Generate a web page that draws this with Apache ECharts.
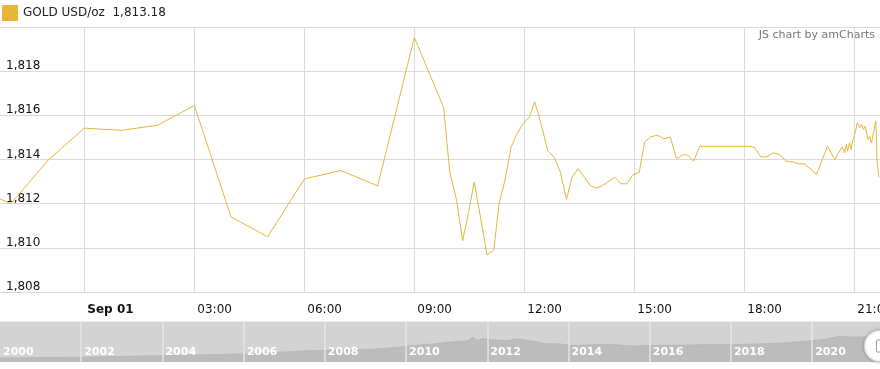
<!DOCTYPE html>
<html><head><meta charset="utf-8">
<script src="https://cdn.jsdelivr.net/npm/echarts@6/dist/echarts.min.js"></script>
<style>html,body{margin:0;padding:0;background:#fff}#c{width:880px;height:369px}</style>
</head><body><div id="c"></div>
<script>
const seriesName = 'GOLD USD/oz';
const windowStart = '2021-08-31 21:42';
const windowEnd = '2021-09-01 21:42';
const xTicks = ['2021-09-01 00:00','2021-09-01 03:00','2021-09-01 06:00','2021-09-01 09:00',
                '2021-09-01 12:00','2021-09-01 15:00','2021-09-01 18:00','2021-09-01 21:00'];
const times = [
 '2021-08-31 21:42','2021-08-31 22:00','2021-08-31 23:00',
 '2021-09-01 00:00','2021-09-01 01:00','2021-09-01 02:00','2021-09-01 03:00','2021-09-01 04:00',
 '2021-09-01 05:00','2021-09-01 06:00','2021-09-01 07:00','2021-09-01 08:00','2021-09-01 09:00',
 '2021-09-01 09:48','2021-09-01 09:58','2021-09-01 10:09','2021-09-01 10:19','2021-09-01 10:28',
 '2021-09-01 10:38','2021-09-01 10:48','2021-09-01 10:59','2021-09-01 11:10','2021-09-01 11:19',
 '2021-09-01 11:28','2021-09-01 11:38','2021-09-01 11:48','2021-09-01 11:58','2021-09-01 12:08',
 '2021-09-01 12:17','2021-09-01 12:28','2021-09-01 12:38','2021-09-01 12:49','2021-09-01 12:59',
 '2021-09-01 13:09','2021-09-01 13:18','2021-09-01 13:28','2021-09-01 13:38','2021-09-01 13:48',
 '2021-09-01 13:58','2021-09-01 14:08','2021-09-01 14:19','2021-09-01 14:28','2021-09-01 14:38',
 '2021-09-01 14:48','2021-09-01 14:58','2021-09-01 15:08','2021-09-01 15:17','2021-09-01 15:27',
 '2021-09-01 15:38','2021-09-01 15:48','2021-09-01 15:59','2021-09-01 16:09','2021-09-01 16:19',
 '2021-09-01 16:27','2021-09-01 16:37','2021-09-01 16:47','2021-09-01 18:09','2021-09-01 18:17',
 '2021-09-01 18:27','2021-09-01 18:37','2021-09-01 18:47','2021-09-01 18:57','2021-09-01 19:09',
 '2021-09-01 19:19','2021-09-01 19:28','2021-09-01 19:38','2021-09-01 19:48','2021-09-01 19:58',
 '2021-09-01 20:16','2021-09-01 20:28','2021-09-01 20:40','2021-09-01 20:44','2021-09-01 20:47',
 '2021-09-01 20:49','2021-09-01 20:52','2021-09-01 20:55','2021-09-01 20:57','2021-09-01 21:00',
 '2021-09-01 21:05','2021-09-01 21:09','2021-09-01 21:12','2021-09-01 21:15','2021-09-01 21:18',
 '2021-09-01 21:22','2021-09-01 21:25','2021-09-01 21:28','2021-09-01 21:32','2021-09-01 21:35',
 '2021-09-01 21:36','2021-09-01 21:37','2021-09-01 21:39','2021-09-01 21:40','2021-09-01 21:42'
];
const prices = [
 1812.21,1812.00,1813.95,
 1815.42,1815.32,1815.55,1816.45,1811.40,
 1810.50,1813.12,1813.50,1812.80,1819.53,
 1816.35,1813.42,1812.18,1810.32,1811.50,
 1812.98,1811.42,1809.68,1809.91,1812.06,
 1813.02,1814.53,1815.17,1815.62,1815.92,
 1816.62,1815.55,1814.42,1814.10,1813.42,
 1812.20,1813.20,1813.59,1813.21,1812.82,
 1812.71,1812.82,1813.02,1813.20,1812.90,
 1812.90,1813.32,1813.42,1814.80,1815.03,
 1815.10,1814.94,1815.01,1814.03,1814.21,
 1814.21,1813.92,1814.60,1814.60,1814.53,
 1814.12,1814.12,1814.30,1814.23,1813.92,
 1813.89,1813.80,1813.80,1813.58,1813.32,
 1814.60,1814.00,1814.58,1814.30,1814.68,
 1814.38,1814.76,1814.45,1814.83,1815.06,
 1815.67,1815.44,1815.59,1815.36,1815.51,
 1814.91,1815.06,1814.76,1815.29,1815.74,
 1815.21,1814.00,1814.08,1813.24,1813.18
];
const yMin = 1808, yMax = 1820, yStep = 2;
const monthNames = ['Jan','Feb','Mar','Apr','May','Jun','Jul','Aug','Sep','Oct','Nov','Dec'];

// navigator (long-term history)
const navYears = [2000.0,2002.0,2004.0,2006.03,2007.39,2008.0,2008.62,2009.04,2009.85,2010.02,2010.67,2011.16,2011.5,2011.65,2011.75,2011.87,2012.07,2012.49,2012.73,2013.13,2013.47,2013.79,2014.04,2014.78,2015.2,2015.59,2016.01,2016.82,2017.66,2018.05,2018.72,2019.38,2019.88,2020.37,2020.69,2021.01,2021.26,2021.67];
const navPrices = [308,360,485,616,825,900,947,947,1132,1209,1386,1540,1594,1901,1617,1787,1710,1632,1771,1594,1386,1386,1255,1332,1309,1209,1263,1286,1332,1332,1386,1463,1594,1771,1979,1902,1925,1810];
const navMinYear = 2000, navMaxYear = 2021.67, navStep = 2;

const FONT = 'DejaVu Sans';
const GOLD = '#E9B43A';
const GRIDC = '#dadada';
const pad = n => (n < 10 ? '0' : '') + n;
const fmtNum = v => v.toLocaleString('en-US', {minimumFractionDigits: 2, maximumFractionDigits: 2});
const toMs = s => echarts.time.parse(s).getTime();
const tickMs = xTicks.map(toMs);
const HOUR = 3600e3;

const chart = echarts.init(document.getElementById('c'));
chart.setOption({
  animation: false,
  backgroundColor: '#fff',
  textStyle: {fontFamily: FONT},
  legend: {
    left: 2, top: 5, padding: 0, icon: 'rect', itemWidth: 16, itemHeight: 16, selectedMode: false,
    data: [seriesName],
    textStyle: {fontFamily: FONT, fontSize: 12, color: '#222'},
    formatter: n => n + '  ' + fmtNum(prices[prices.length - 1])
  },
  grid: [
    {left: 0, right: 0, top: 27, height: 265, outerBoundsMode: 'none', containLabel: false},
    {left: 0, right: 0, top: 321.5, height: 40.5, outerBoundsMode: 'none', containLabel: false, show: true, backgroundColor: '#d3d3d3', borderWidth: 0}
  ],
  xAxis: [
    {
      type: 'value', gridIndex: 0, min: toMs(windowStart), max: toMs(windowEnd), interval: 3 * HOUR,
      axisLine: {show: true, lineStyle: {color: GRIDC}},
      axisTick: {show: false, customValues: tickMs},
      splitLine: {show: true, lineStyle: {color: GRIDC, width: 1}},
      axisLabel: {
        customValues: tickMs,
        align: 'left', padding: [0, 0, 0, 3], margin: 12,
        fontFamily: FONT, fontSize: 12, color: '#111',
        formatter: v => {
          const d = new Date(v);
          if (d.getHours() === 0 && d.getMinutes() === 0) return '{b|' + monthNames[d.getMonth()] + ' ' + pad(d.getDate()) + '}';
          return pad(d.getHours()) + ':' + pad(d.getMinutes());
        },
        rich: {b: {fontWeight: 'bold', fontFamily: FONT, fontSize: 12, color: '#111'}}
      }
    },
    {
      type: 'value', gridIndex: 1, min: navMinYear, max: navMaxYear, interval: navStep, z: 5,
      axisLine: {show: false}, axisTick: {show: false},
      splitLine: {show: true, showMinLine: false, showMaxLine: false, lineStyle: {color: '#e6e6e6', width: 1.5}},
      axisLabel: {
        inside: true, margin: 4, align: 'left', padding: [0, 0, 0, 3], color: '#fff', fontWeight: 'bold',
        fontFamily: FONT, fontSize: 11, showMaxLabel: false,
        formatter: v => (Number.isInteger(v) ? String(v) : '')
      }
    }
  ],
  yAxis: [
    {
      type: 'value', gridIndex: 0, min: yMin, max: yMax, interval: yStep,
      axisLine: {show: false}, axisTick: {show: false},
      splitLine: {show: true, lineStyle: {color: GRIDC, width: 1}},
      axisLabel: {
        inside: true, margin: 6, verticalAlign: 'bottom', lineHeight: 10, showMaxLabel: false,
        fontFamily: FONT, fontSize: 12, color: '#111',
        formatter: v => v.toLocaleString('en-US')
      }
    },
    {
      type: 'value', gridIndex: 1, min: 0, max: 3100,
      axisLine: {show: false}, axisTick: {show: false}, splitLine: {show: false}, axisLabel: {show: false}
    }
  ],
  series: [
    {
      name: seriesName, type: 'line', xAxisIndex: 0, yAxisIndex: 0, symbol: 'none',
      lineStyle: {color: GOLD, width: 1}, itemStyle: {color: GOLD},
      data: times.map((t, i) => [toMs(t), prices[i]])
    },
    {
      name: 'nav', type: 'line', xAxisIndex: 1, yAxisIndex: 1, symbol: 'none',
      lineStyle: {color: '#b8b8b8', width: 1}, areaStyle: {color: '#bcbcbc', opacity: 1},
      data: navYears.map((y, i) => [y, navPrices[i]])
    }
  ],
  graphic: [
    {type: 'text', right: 5, top: 30, style: {text: 'JS chart by amCharts', fill: '#777', font: '11px "DejaVu Sans"'}},
    {type: 'circle', z: 100, shape: {cx: 880, cy: 346, r: 16}, style: {fill: '#fff', stroke: '#c8c8c8', lineWidth: 1, shadowBlur: 3, shadowColor: 'rgba(0,0,0,0.25)'}},
    {type: 'rect', z: 101, shape: {x: 876.5, y: 340, width: 5, height: 12, r: 1}, style: {fill: '#fff', stroke: '#999', lineWidth: 1}}
  ]
});
</script></body></html>
